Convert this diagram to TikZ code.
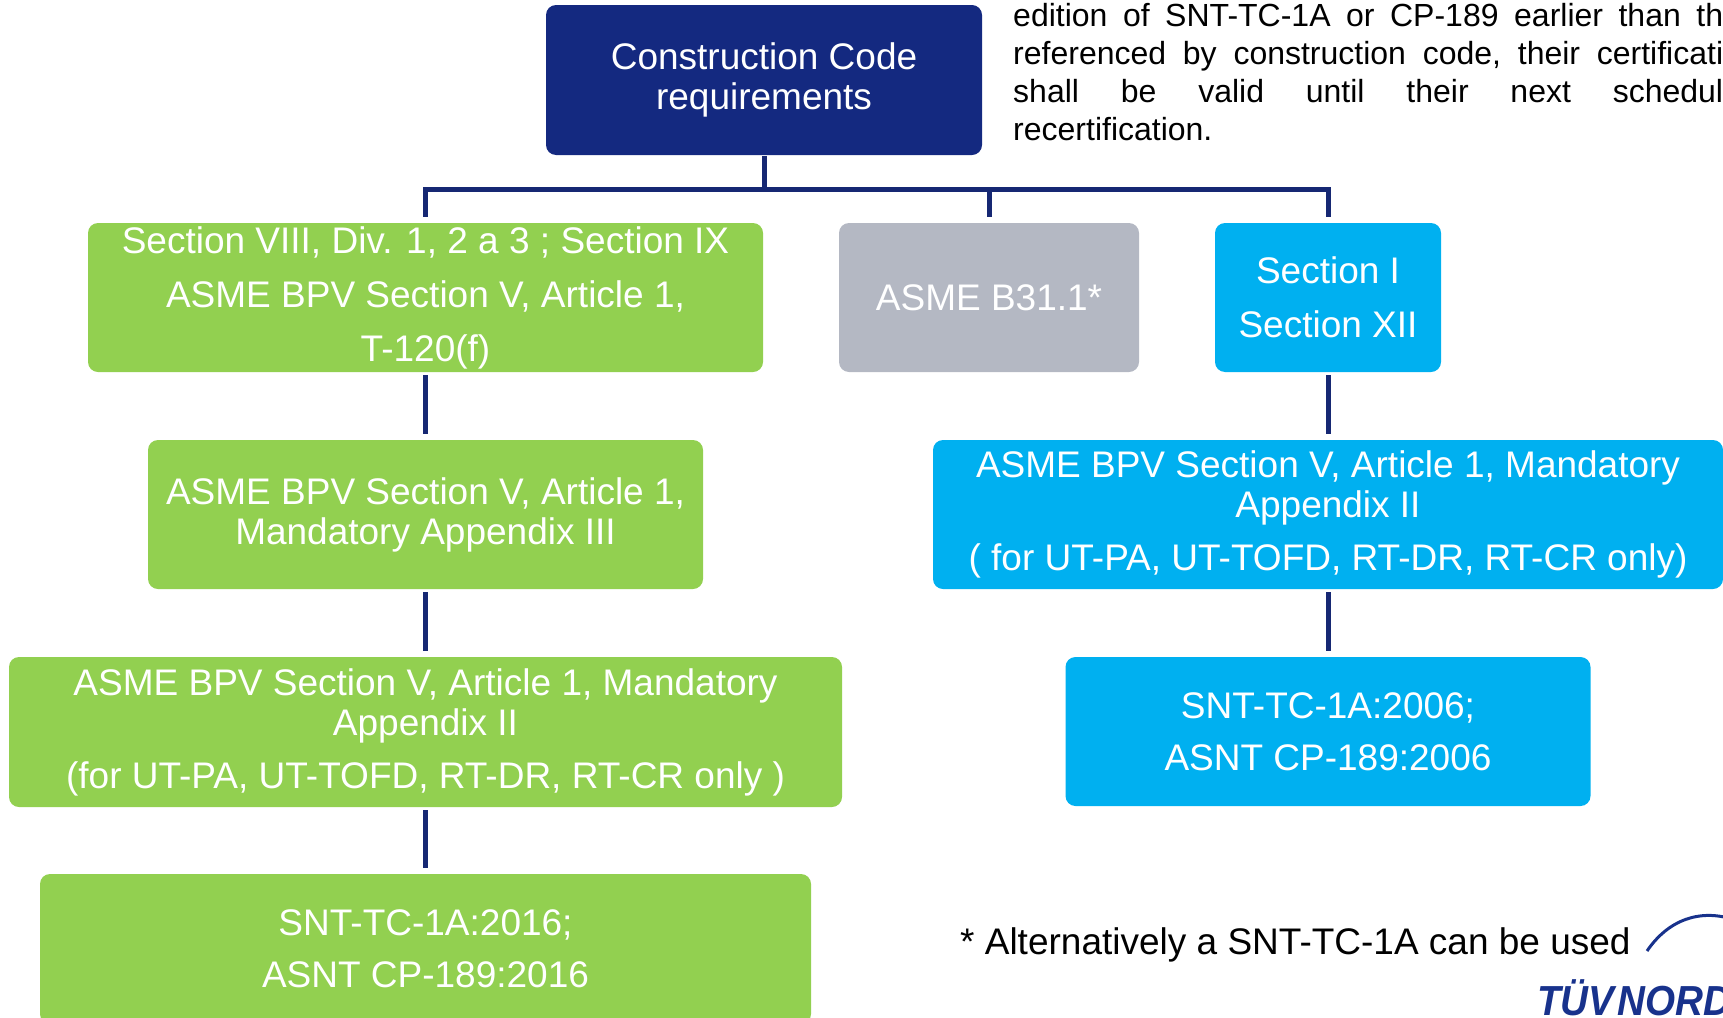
\documentclass[tikz,border=0pt]{standalone}
\usepackage{fontspec}
\usepackage{graphicx}
\setmainfont{Liberation Sans}
\definecolor{navy}{RGB}{20,41,128}
\definecolor{connnavy}{RGB}{22,40,115}
\definecolor{lgreen}{RGB}{146,208,80}
\definecolor{lblue}{RGB}{0,176,240}
\definecolor{lgray}{RGB}{180,184,195}
\definecolor{logoblue}{RGB}{24,50,140}
\begin{document}
\begin{tikzpicture}[x=1pt,y=-1pt,
  box/.style={rounded corners=10pt, inner sep=0pt, align=center, text=white,
    font=\fontsize{37}{40}\selectfont},
  conn/.style={draw=connnavy, line width=5pt},
  vconn/.style={conn, shorten <=3pt, shorten >=6pt},
  para/.style={anchor=base west, inner sep=0pt, text=black,
    font=\fontsize{32}{38}\selectfont},
]
\useasboundingbox (0,0) rectangle (1723,1017);
\clip (0,0) rectangle (1723,1017);

% boxes
\node[box, fill=navy, minimum width=436pt, minimum height=150pt] (top) at (764,80)
  {Construction Code\\requirements};
\node[box, fill=lgreen, minimum width=675pt, minimum height=149pt] (g1) at (425.5,297.5)
  {Section VIII, Div. 1, 2 a 3 ; Section IX\\[14pt]ASME BPV Section V, Article 1,\\[14pt]T-120(f)};
\node[box, fill=lgray, minimum width=300pt, minimum height=149pt] (gr) at (989,297.5)
  {ASME B31.1*};
\node[box, fill=lblue, minimum width=226pt, minimum height=149pt] (b1) at (1328,297.5)
  {Section I\\[14pt]Section XII};
\node[box, fill=lgreen, minimum width=555pt, minimum height=149pt] (g2) at (425.5,514.5)
  {ASME BPV Section V, Article 1,\\Mandatory Appendix III};
\node[box, fill=lblue, minimum width=790pt, minimum height=149pt] (b2) at (1328,514.5)
  {ASME BPV Section V, Article 1, Mandatory\\Appendix II\\[13pt]( for UT-PA, UT-TOFD, RT-DR, RT-CR only)};
\node[box, fill=lgreen, minimum width=833pt, minimum height=150pt] (g3) at (425.5,732)
  {ASME BPV Section V, Article 1, Mandatory\\Appendix II\\[13pt](for UT-PA, UT-TOFD, RT-DR, RT-CR only )};
\node[box, fill=lblue, minimum width=525pt, minimum height=149pt] (b3) at (1328,731.5)
  {SNT-TC-1A:2006;\\[12pt]ASNT CP-189:2006};
\node[box, fill=lgreen, minimum width=771pt, minimum height=150pt] (g4) at (425.5,949)
  {SNT-TC-1A:2016;\\[12pt]ASNT CP-189:2016};

% connectors
\coordinate (bar) at (764,189);
\draw[conn] ([yshift=-1pt]top.south) -- (top.south |- bar);
\draw[conn] ([yshift=6pt]g1.north) -- (g1.north |- bar) -- (b1.north |- bar) -- ([yshift=6pt]b1.north);
\draw[conn] ([yshift=6pt]gr.north) -- (gr.north |- bar);
\draw[vconn] (g1.south) -- (g2.north);
\draw[vconn] (g2.south) -- (g3.north);
\draw[vconn] (g3.south) -- (g4.north);
\draw[vconn] (b1.south) -- (b2.north);
\draw[vconn] (b2.south) -- (b3.north);

% paragraph (cut at the right edge)
\node[para] (p1) at (1013,27) {\hbox to 710pt{edition\hfill of\hfill SNT-TC-1A\hfill or\hfill CP-189\hfill earlier\hfill than\hfill th}};
\node[para] (p2) at (1013,64.5) {\hbox to 710pt{referenced\hfill by\hfill construction\hfill code,\hfill their\hfill certificati}};
\node[para] (p3) at (1013,102) {\hbox to 710pt{shall\hfill be\hfill valid\hfill until\hfill their\hfill next\hfill schedul}};
\node[para] (p4) at (1013,140) {recertification.};

% footnote
\node[anchor=base west, inner sep=0pt, font=\fontsize{37}{40}\selectfont] (note) at (960,954)
  {* Alternatively a SNT-TC-1A can be used};

% logo
\coordinate (arcA) at (1647,951);
\coordinate (arcB) at (1735,920);
\draw[logoblue, line width=3pt] (arcA) .. controls (1668,920) and (1700,908) .. (arcB);
\node[anchor=base west, inner sep=0pt, text=logoblue,
  font=\fontsize{42}{42}\selectfont\bfseries\itshape] (logo) at (1537,1015)
  {\scalebox{0.92}[1]{TÜV\kern3pt NORD}};
\end{tikzpicture}
\end{document}
